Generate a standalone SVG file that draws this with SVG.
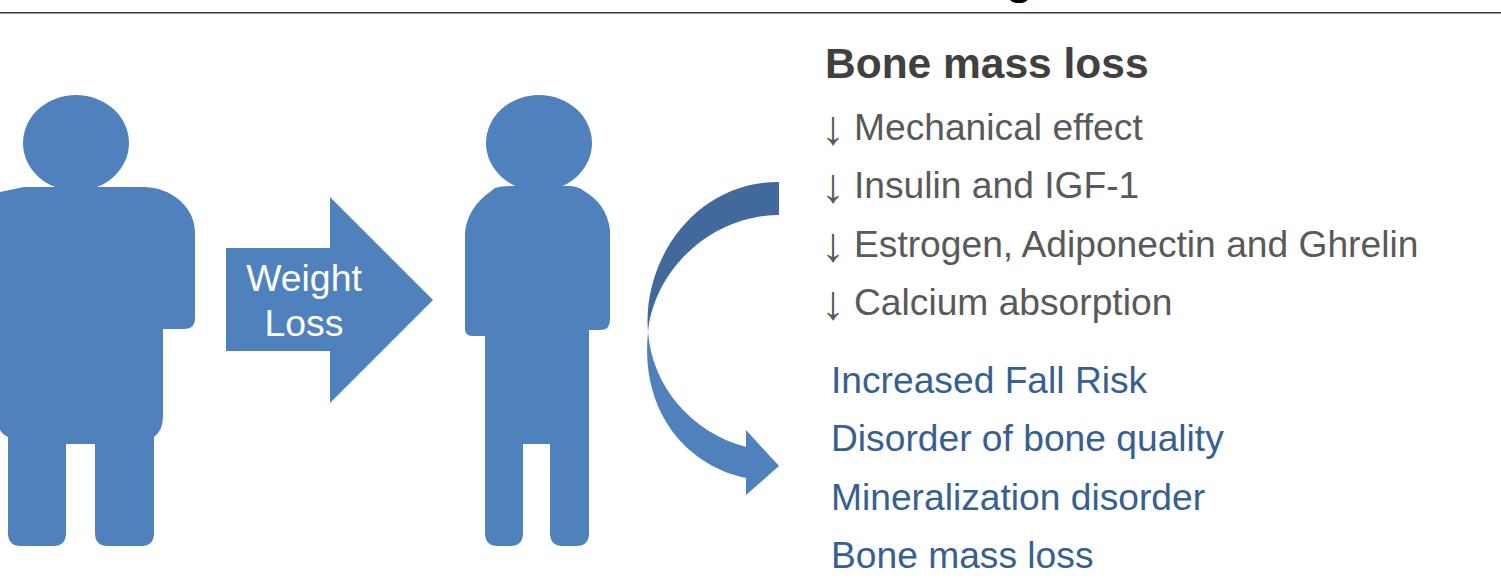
<svg xmlns="http://www.w3.org/2000/svg" width="1501" height="587" viewBox="0 0 1501 587">
<style>
.fig{fill:#4f81bd}
text{font-family:"Liberation Sans",Arial,sans-serif}
.g{font-size:37.2px;fill:#595959}
.a{font-size:48px;fill:#595959}
.b{font-size:37.2px;fill:#376092}
.w{font-size:37.4px;fill:#fff;text-anchor:middle}
</style>
<rect width="1501" height="587" fill="#fff"/>
<rect x="0" y="12" width="1501" height="1.5" fill="#333"/>
<text x="1006" y="-6" font-size="44" font-weight="bold" fill="#000">g</text>
<g id="person-large">
<ellipse class="fig" cx="76" cy="143" rx="53" ry="48"/>
<path class="fig" d="M0 192L24 187H143C172 187 195 208 195 232V318Q195 329 184 329H163V417Q163 430 154 437V533Q154 546 141 546H108Q95 546 95 533V444H66V533Q66 546 53 546H21Q8 546 8 533V437Q3 435 0 430Z"/>
</g>
<g id="person-small">
<ellipse class="fig" cx="539" cy="143" rx="53" ry="48"/>
<path class="fig" d="M465 234C466 215 478 200 490 192L495 188Q500 186 510 186H568Q578 186 584 191C598 199 608 212 610 230V320Q610 330 600 330H589V533Q589 546 576 546H563Q550 546 550 533V444H523V533Q523 546 510 546H498Q485 546 485 533V336H472Q465 336 465 329Z"/>
</g>
<g id="arrow-weight-loss">
<path class="fig" d="M226 248H330V197L433 300L330 403V351H226Z"/>
<text class="w" x="304" y="291">Weight</text>
<text class="w" x="304" y="336">Loss</text>
</g>
<g id="connectors">
<path fill="#41699b" d="M779 182V215C711 215 654 270 648 332C642 260 695 182 779 182Z"/>
<path class="fig" d="M648 332C652 385 690 432 746 447V430L779 466L746 495V478C685 465 640 410 648 332Z"/>
</g>
<g id="text-bone-mass-loss">
<text x="825" y="78" font-size="42.5" font-weight="bold" fill="#404040">Bone mass loss</text>
<text class="a" x="821" y="144">↓</text><text class="g" x="854" y="140">Mechanical effect</text>
<text class="a" x="821" y="202">↓</text><text class="g" x="854" y="198">Insulin and IGF-1</text>
<text class="a" x="821" y="261">↓</text><text class="g" x="854" y="257">Estrogen, Adiponectin and Ghrelin</text>
<text class="a" x="821" y="319">↓</text><text class="g" x="854" y="315">Calcium absorption</text>
<text class="b" x="831" y="393">Increased Fall Risk</text>
<text class="b" x="831" y="451">Disorder of bone quality</text>
<text class="b" x="831" y="510">Mineralization disorder</text>
<text class="b" x="831" y="568">Bone mass loss</text>
</g>
</svg>
